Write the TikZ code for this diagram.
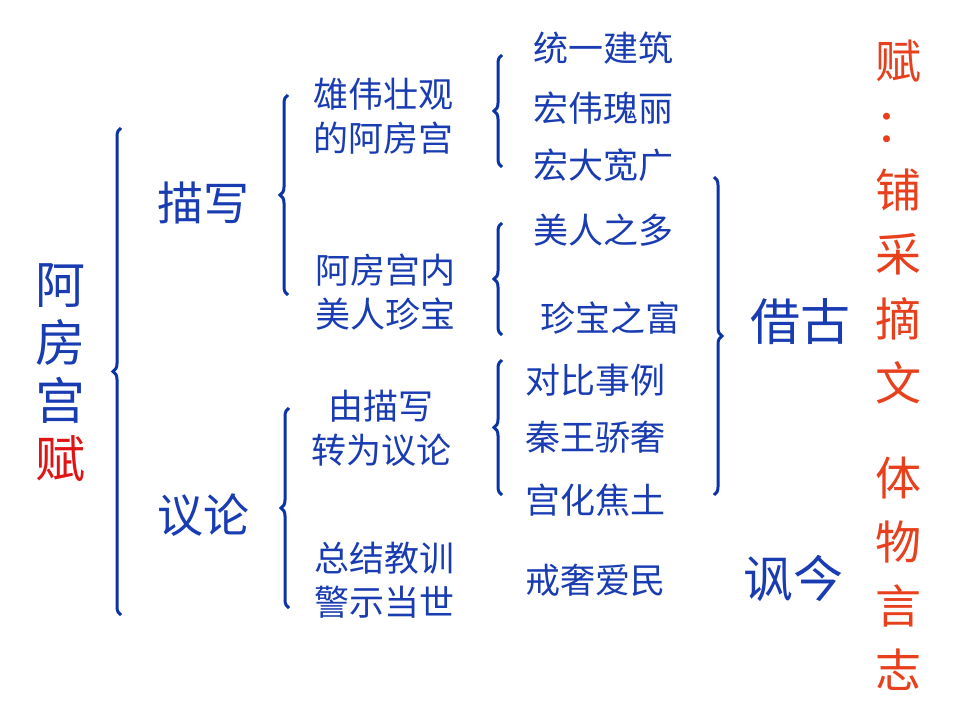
\documentclass[tikz,border=0pt]{standalone}
\usepackage{fontspec}
\newfontfamily\cjk{Noto Sans CJK SC}
\usepackage{tikz}
\usetikzlibrary{decorations.pathreplacing,positioning}
\usepackage{xcolor}
\definecolor{ink}{HTML}{1A3CB2}
\definecolor{bracec}{HTML}{0A33A6}
\definecolor{fuRed}{HTML}{E01414}
\definecolor{note}{HTML}{E8401C}
\tikzset{
  title/.style={font=\cjk\fontsize{50}{58}\selectfont,text=ink,align=center,inner sep=0pt},
  part/.style={font=\cjk\fontsize{46}{52}\selectfont,text=ink,inner sep=0pt},
  item/.style={font=\cjk\fontsize{35}{44}\selectfont,text=ink,align=center,inner sep=0pt},
  side/.style={font=\cjk\fontsize{46}{64.5}\selectfont,text=note,align=center,inner sep=0pt},
  brc/.style={draw=bracec,line width=3pt,decorate,decoration={brace,amplitude=8pt}}
}
\begin{document}
\begin{tikzpicture}[x=1pt,y=-1pt]
        \useasboundingbox[fill=white] (0,0) rectangle (960,720);
        % left column
        \node[title] (fu) at (60,372) {阿\\房\\宫\\\textcolor{fuRed}{赋}};
        \node[part] (miao) at (203,203) {描写};
        \node[part] (yi) at (203,515) {议论};
        % third column
        \node[item] (gong) at (383,116) {雄伟壮观\\的阿房宫};
        \node[item] (mei) at (385,292) {阿房宫内\\美人珍宝};
        \node[item] (zhuan) at (381,428) {由描写\\转为议论};
        \node[item] (zong) at (384,580) {总结教训\\警示当世};
        % fourth column
        \node[item] (tong) at (603,48) {统一建筑};
        \node[item] (hwei) at (603,108) {宏伟瑰丽};
        \node[item] (hda) at (603,165) {宏大宽广};
        \node[item] (duo) at (603,230) {美人之多};
        \node[item] (fu2) at (610,318) {珍宝之富};
        \node[item] (dui) at (595,380) {对比事例};
        \node[item] (qin) at (595,437) {秦王骄奢};
        \node[item] (jiao) at (595,500) {宫化焦土};
        \node[item] (jie) at (595,580) {戒奢爱民};
        \node[part,font=\cjk\fontsize{50}{56}\selectfont] (gu) at (800,322) {借古};
        \node[part,font=\cjk\fontsize{50}{56}\selectfont] (jin) at (793,578) {讽今};
        % right column
        \node[side] (pu) at (898,222) {赋\\：\\铺\\采\\摘\\文};
        \node[side,font=\cjk\fontsize{46}{64}\selectfont] (ti) at (898,574) {体\\物\\言\\志};
        % braces
        \coordinate (bigT) at (121,128);
        \coordinate (bigB) at (121,615);
        \coordinate (miaoT) at (288,95);
        \coordinate (miaoB) at (288,295);
        \coordinate (yiT) at (289,408);
        \coordinate (yiB) at (289,608);
        \coordinate (s1T) at (502,55);
        \coordinate (s1B) at (502,167);
        \coordinate (s2T) at (502,223);
        \coordinate (s2B) at (502,335);
        \coordinate (s3T) at (502,360);
        \coordinate (s3B) at (502,495);
        \coordinate (guT) at (714,177);
        \coordinate (guB) at (714,495);
        \draw[brc] (bigB) -- (bigT);
        \draw[brc] (miaoB) -- (miaoT);
        \draw[brc] (yiB) -- (yiT);
        \draw[brc] (s1B) -- (s1T);
        \draw[brc] (s2B) -- (s2T);
        \draw[brc] (s3B) -- (s3T);
        \draw[brc] (guT) -- (guB);
      \end{tikzpicture}
\end{document}
